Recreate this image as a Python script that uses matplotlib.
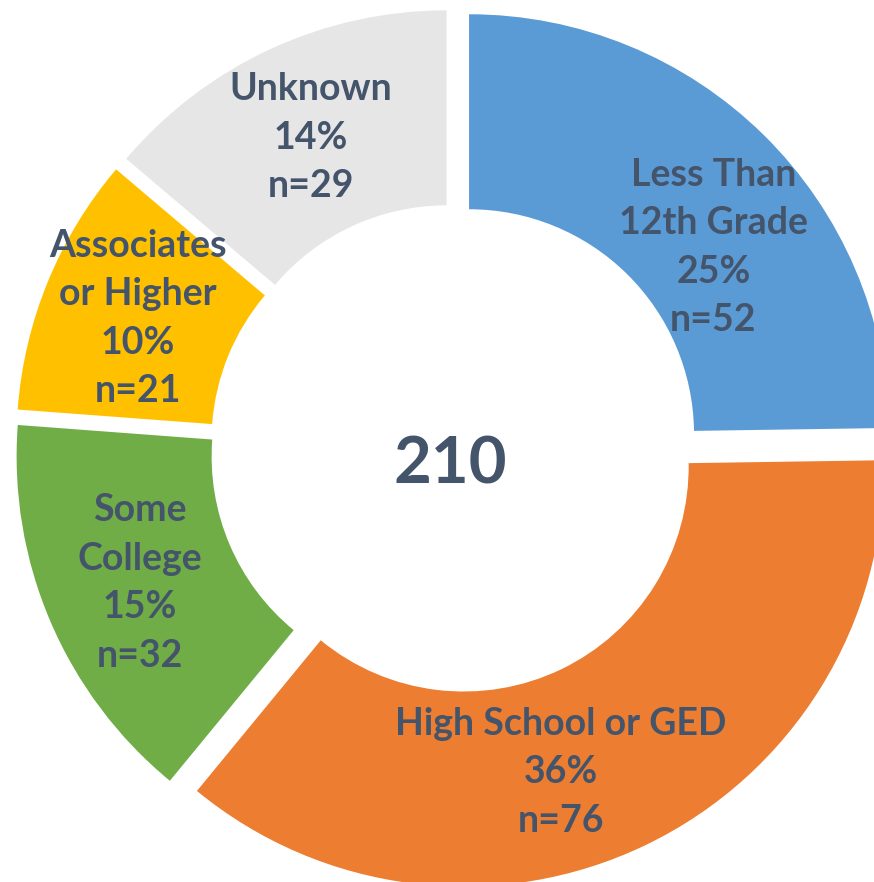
import numpy as np
import matplotlib
matplotlib.use('Agg')
import matplotlib.pyplot as plt
from matplotlib import rcParams

rcParams['font.family'] = ['Lato', 'DejaVu Sans']

categories = ['Less Than\n12th Grade', 'High School or GED', 'Some\nCollege',
              'Associates\nor Higher', 'Unknown']
counts = [52, 76, 32, 21, 29]
colors = ['#5B9BD5', '#ED7D31', '#70AD47', '#FFC000', '#E6E6E6']
text_color = '#44546A'

# nudges for the labels that Excel moved away from the ring centre
label_nudge = [(18, -43), (-43, -15), (0, 0), (0, 0), (0, 0)]

W, H = 874, 882
fig = plt.figure(figsize=(W / 100, H / 100), dpi=100)
ax = fig.add_axes([0, 0, 1, 1])

cx, cy = 455, 433.5
r_out, r_in = 420, 225
gap = 20

total = sum(counts)
wedges, _ = ax.pie(counts, colors=colors, startangle=90, counterclock=False,
                   radius=r_out, center=(cx, cy), explode=[gap] * len(counts),
                   wedgeprops=dict(width=r_out - r_in, edgecolor='none', linewidth=0))

r_mid = (r_out + r_in) / 2
for w, name, n, (dx, dy) in zip(wedges, categories, counts, label_nudge):
    mid = np.deg2rad((w.theta1 + w.theta2) / 2)
    x0, y0 = w.center
    tx = x0 + r_mid * np.cos(mid) + dx
    ty = y0 + r_mid * np.sin(mid) + dy
    pct = round(100 * n / total)
    ax.text(tx, ty, f'{name}\n{pct}%\nn={n}', ha='center', va='center',
            fontsize=27, fontweight='bold', color=text_color, linespacing=1.52)

ax.text(cx - 5, cy - 17, str(total), ha='center', va='center',
        fontsize=47, fontweight='bold', color=text_color)

ax.set_xlim(0, W)
ax.set_ylim(0, H)
ax.set_aspect('auto')
ax.axis('off')

fig.savefig('out.png', dpi=100)
